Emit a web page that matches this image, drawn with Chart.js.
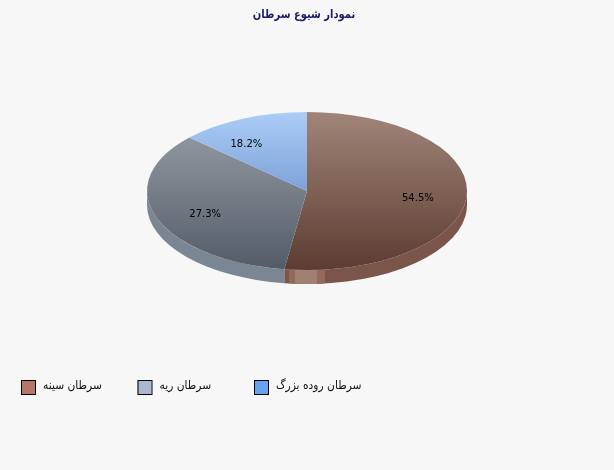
<!DOCTYPE html>
<html><head><meta charset="utf-8">
<script src="https://cdn.jsdelivr.net/npm/chart.js@4.4.1/dist/chart.umd.min.js"></script>
<style>html,body{margin:0;padding:0;background:#f7f7f7;overflow:hidden}canvas{display:block}</style>
</head><body>
<canvas id="c" width="614" height="470"></canvas>
<script>
// ---- data ----
const chartTitle = 'نمودار شیوع سرطان';
const categories = ['سرطان سینه', 'سرطان ریه', 'سرطان روده بزرگ'];
const values = [54.5, 27.3, 18.2];

// ---- styles ----
const topColors = ['#a18579', '#9ba1aa', '#abcdf7'];
const bottomColors = ['#5c3c32', '#535b67', '#4f76ba'];
const sideColors = ['#7b5549', '#7b8694', '#6f93cc'];
const legendColors = ['#b47864', '#a8b8cf', '#66a2ef'];
const FONT = '"DejaVu Sans", sans-serif';
const RATIO = 79 / 160;
const DEPTH = 14;

function paramAngle(phi, rx, ry) {
  let t = Math.atan2(rx * Math.sin(phi), ry * Math.cos(phi));
  while (t < phi - Math.PI) t += 2 * Math.PI;
  while (t > phi + Math.PI) t -= 2 * Math.PI;
  return t;
}

const ellipsePie = {
  id: 'ellipsePie',
  beforeDatasetDraw(chart, args) {
    const ctx = chart.ctx;
    const arcs = chart.getDatasetMeta(args.index).data;
    const a0 = arcs[0];
    const cx = a0.x, cy = a0.y, rx = a0.outerRadius, ry = rx * RATIO;
    ctx.save();
    // side walls
    arcs.forEach((arc, i) => {
      const s = Math.max(arc.startAngle, 0), e = Math.min(arc.endAngle, Math.PI);
      if (e <= s) return;
      const ts = paramAngle(s, rx, ry), te = paramAngle(e, rx, ry);
      ctx.beginPath();
      ctx.ellipse(cx, cy, rx, ry, 0, ts, te, false);
      ctx.ellipse(cx, cy + DEPTH, rx, ry, 0, te, ts, true);
      ctx.closePath();
      ctx.fillStyle = sideColors[i];
      ctx.fill();
      if (i === 0) {
        ctx.save();
        ctx.clip();
        ctx.fillStyle = '#93695c';
        ctx.fillRect(cx - 18, cy, 36, ry + DEPTH + 2);
        ctx.fillStyle = '#a08073';
        ctx.fillRect(cx - 12, cy, 22, ry + DEPTH + 2);
        ctx.restore();
      }
    });
    // top faces
    arcs.forEach((arc, i) => {
      const ts = paramAngle(arc.startAngle, rx, ry), te = paramAngle(arc.endAngle, rx, ry);
      const g = ctx.createLinearGradient(0, cy - ry, 0, cy + ry);
      g.addColorStop(0, topColors[i]);
      g.addColorStop(1, bottomColors[i]);
      ctx.beginPath();
      ctx.moveTo(cx, cy);
      ctx.ellipse(cx, cy, rx, ry, 0, ts, te, false);
      ctx.closePath();
      ctx.fillStyle = g;
      ctx.fill();
    });
    // labels
    const total = values.reduce((a, b) => a + b, 0);
    ctx.font = '10px ' + FONT;
    ctx.fillStyle = '#000';
    ctx.textAlign = 'center';
    ctx.textBaseline = 'middle';
    arcs.forEach((arc, i) => {
      const mid = (arc.startAngle + arc.endAngle) / 2;
      const x = cx + 0.7 * rx * Math.cos(mid);
      const y = cy + 0.7 * ry * Math.sin(mid);
      ctx.fillText((values[i] / total * 100).toFixed(1) + '%', x, y);
    });
    ctx.restore();
    return false;
  }
};

function squeezedText(ctx, text, x, y, sx) {
  ctx.save();
  ctx.translate(x, y);
  ctx.scale(sx, 1);
  ctx.fillText(text, 0, 0);
  ctx.restore();
}

const decor = {
  id: 'decor',
  afterDraw(chart) {
    const ctx = chart.ctx;
    ctx.save();
    ctx.font = 'bold 12px ' + FONT;
    ctx.fillStyle = '#1c1c6b';
    ctx.textAlign = 'center';
    ctx.textBaseline = 'middle';
    squeezedText(ctx, chartTitle, 304, 15, 0.83);
    ctx.font = '12px ' + FONT;
    ctx.textAlign = 'left';
    categories.forEach((cat, i) => {
      const x = 21 + i * 116.5;
      ctx.fillStyle = legendColors[i];
      ctx.fillRect(x, 380, 14, 14);
      ctx.strokeStyle = '#000';
      ctx.lineWidth = 1;
      ctx.strokeRect(x + 0.5, 380.5, 14, 14);
      ctx.fillStyle = '#111';
      squeezedText(ctx, cat, x + 22, 386, 0.89);
    });
    ctx.restore();
  }
};

new Chart(document.getElementById('c'), {
  type: 'pie',
  data: {
    labels: categories,
    datasets: [{ data: values, backgroundColor: topColors, borderWidth: 0 }]
  },
  options: {
    responsive: false,
    animation: false,
    devicePixelRatio: 1,
    layout: { padding: { top: 31, bottom: 119, left: 0, right: 0 } },
    plugins: { legend: { display: false }, title: { display: false }, tooltip: { enabled: false } }
  },
  plugins: [ellipsePie, decor]
});
</script>
</body></html>
